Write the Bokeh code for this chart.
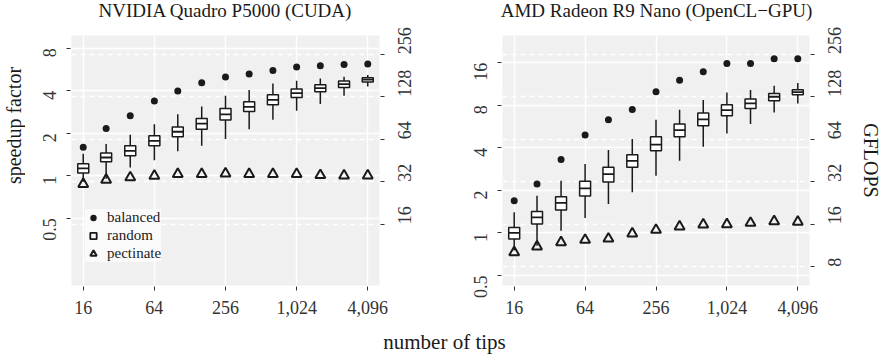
import math
from bokeh.plotting import figure
from bokeh.layouts import row, column
from bokeh.models import (LogAxis, Range1d, FixedTicker, CustomJSTickFormatter, Grid,
                          Legend, LegendItem, Label, LogScale, ColumnDataSource)
from bokeh.embed import file_html
from bokeh.resources import INLINE

# ---------------- data ----------------
tips = [16, 25, 40, 64, 101, 161, 256, 406, 645, 1024, 1625, 2580, 4096]
x_ticks = [16, 64, 256, 1024, 4096]

nv_title = "NVIDIA Quadro P5000 (CUDA)"
nv_balanced = [1.59, 2.16, 2.66, 3.38, 3.98, 4.55, 5.0, 5.25, 5.57, 5.89, 6.02, 6.14, 6.2]
nv_pectinate = [0.873, 0.937, 0.973, 1.0, 1.028, 1.03, 1.038, 1.03, 1.028, 1.028, 1.01, 1.005, 1.005]
nv_rand_low = [0.907, 0.952, 1.145, 1.29, 1.49, 1.63, 1.82, 2.14, 2.49, 2.89, 3.22, 3.69, 4.29]
nv_rand_q1 = [1.045, 1.257, 1.385, 1.63, 1.89, 2.14, 2.48, 2.85, 3.18, 3.59, 3.94, 4.22, 4.61]
nv_rand_med = [1.127, 1.348, 1.50, 1.77, 2.05, 2.34, 2.72, 3.08, 3.45, 3.85, 4.18, 4.46, 4.79]
nv_rand_q3 = [1.216, 1.448, 1.63, 1.92, 2.22, 2.55, 3.0, 3.34, 3.75, 4.11, 4.41, 4.69, 4.94]
nv_rand_high = [1.43, 1.68, 1.95, 2.32, 2.73, 3.10, 3.69, 4.05, 4.51, 4.71, 4.89, 5.03, 5.17]
nv_speed_ticks = [0.5, 1, 2, 4, 8]
nv_gflops_ticks = [16, 32, 64, 128, 256]
nv_base_gflops = 35.3

amd_title = "AMD Radeon R9 Nano (OpenCL\u2212GPU)"
amd_balanced = [1.69, 2.22, 3.31, 4.93, 6.32, 7.47, 9.97, 12.05, 13.8, 15.8, 15.8, 17.1, 17.05]
amd_pectinate = [0.73, 0.80, 0.858, 0.892, 0.911, 0.989, 1.05, 1.11, 1.145, 1.15, 1.177, 1.21, 1.20]
amd_rand_low = [0.75, 0.813, 1.038, 1.277, 1.60, 1.94, 2.54, 3.24, 4.07, 5.06, 5.89, 7.12, 8.24]
amd_rand_q1 = [0.907, 1.158, 1.454, 1.826, 2.29, 2.91, 3.82, 4.79, 5.73, 6.74, 7.60, 8.61, 9.49]
amd_rand_med = [1.0, 1.29, 1.63, 2.07, 2.61, 3.24, 4.21, 5.34, 6.35, 7.40, 8.24, 9.19, 9.92]
amd_rand_q3 = [1.095, 1.42, 1.805, 2.32, 2.91, 3.58, 4.79, 5.89, 7.05, 8.07, 8.85, 9.69, 10.3]
amd_rand_high = [1.40, 1.835, 2.34, 3.07, 3.86, 4.62, 6.32, 7.44, 8.71, 9.85, 10.25, 10.99, 11.48]
amd_speed_ticks = [0.5, 1, 2, 4, 8, 16]
amd_gflops_ticks = [8, 16, 32, 64, 128, 256]
amd_base_gflops = 13.9

x_title = "number of tips"
y_title = "speedup factor"
legend_labels = ["balanced", "random", "pectinate"]

FONT = "Liberation Serif"
TXT = "#1a1a1a"
TICK_TXT = "#333333"
PANEL_BG = "#f0f0f0"
FMT = "return tick.toLocaleString('en-US');"
FRAME_W, FRAME_H = 308, 250
ROW_H = 298


def style_axis(ax, label=None):
    ax.axis_line_color = None
    ax.major_tick_line_color = "#333333"
    ax.major_tick_line_width = 1
    ax.major_tick_in = -1
    ax.major_tick_out = 5
    ax.minor_tick_line_color = None
    ax.major_label_text_font = FONT
    ax.major_label_text_font_size = "18px"
    ax.major_label_text_color = TICK_TXT
    ax.axis_label_text_font = FONT
    ax.axis_label_text_font_size = "20px"
    ax.axis_label_text_font_style = "normal"
    ax.axis_label_text_color = TXT
    if label:
        ax.axis_label = label


def strip(width, height):
    s = figure(width=width, height=height, toolbar_location=None, output_backend="svg",
               title=None, x_axis_location=None, y_axis_location=None, min_border=0)
    s.grid.visible = False
    s.outline_line_color = None
    return s


def panel(width, bl, br, ylo, yhi, speed_ticks, gflops_ticks, base,
          balanced, pect, low, q1, med, q3, high, rlabel, legend):
    x_range = Range1d(2 ** 3.67, 2 ** 12.33)
    p = figure(width=width, height=ROW_H, x_axis_type="log", y_axis_type="log",
               x_range=x_range, y_range=Range1d(ylo, yhi), title=None,
               toolbar_location=None, output_backend="svg",
               min_border_left=bl, min_border_right=br, min_border_top=13,
               min_border_bottom=35)
    p.background_fill_color = PANEL_BG
    p.border_fill_color = "white"
    p.outline_line_color = None

    p.extra_y_ranges = {"gflops": Range1d(ylo * base, yhi * base)}
    p.extra_y_scales = {"gflops": LogScale()}
    rax = LogAxis(y_range_name="gflops")
    rax.ticker = FixedTicker(ticks=gflops_ticks)
    rax.formatter = CustomJSTickFormatter(code=FMT)
    style_axis(rax, rlabel)
    rax.major_label_orientation = math.pi / 2
    rax.major_label_standoff = 20
    rax.axis_label_standoff = 9
    p.add_layout(rax, "right")

    xax = p.xaxis[0]
    xax.ticker = FixedTicker(ticks=x_ticks)
    xax.formatter = CustomJSTickFormatter(code=FMT)
    style_axis(xax)
    xax.major_label_standoff = 10
    yax = p.yaxis[0]
    yax.ticker = FixedTicker(ticks=speed_ticks)
    yax.formatter = CustomJSTickFormatter(code=FMT)
    style_axis(yax)
    yax.major_label_orientation = math.pi / 2
    yax.major_label_standoff = 17

    p.xgrid.ticker = FixedTicker(ticks=x_ticks)
    p.ygrid.ticker = FixedTicker(ticks=speed_ticks)
    for g in (p.xgrid[0], p.ygrid[0]):
        g.grid_line_color = "white"
        g.grid_line_width = 1.4
        g.minor_grid_line_color = None
    dg = Grid(dimension=1, ticker=FixedTicker(ticks=gflops_ticks), y_range_name="gflops",
              grid_line_color="white", grid_line_width=1.3, grid_line_dash="5 4")
    p.add_layout(dg)

    # box geometry (screen width converted to log2 data factor)
    px_per_log2 = FRAME_W / (12.33 - 3.67)
    half = 2 ** (5.5 / px_per_log2)
    left = [t / half for t in tips]
    right = [t * half for t in tips]
    src = ColumnDataSource(dict(x=tips, left=left, right=right, low=low, q1=q1,
                                med=med, q3=q3, high=high))
    p.segment(x0="x", y0="q3", x1="x", y1="high", source=src, line_color=TXT, line_width=1.5)
    p.segment(x0="x", y0="q1", x1="x", y1="low", source=src, line_color=TXT, line_width=1.5)
    p.quad(left="left", right="right", bottom="q1", top="q3", source=src,
           fill_color="white", line_color=TXT, line_width=1.5)
    p.segment(x0="left", y0="med", x1="right", y1="med", source=src, line_color=TXT, line_width=1.8)

    r_bal = p.scatter(tips, balanced, marker="circle", size=7, fill_color=TXT, line_color=None)
    r_tri = p.scatter(tips, pect, marker="triangle", size=10, fill_color=None,
                      line_color=TXT, line_width=2)
    if legend:
        r_sq = p.scatter(tips, med, marker="square", size=8, fill_color=None,
                         line_color=TXT, line_width=1.8, visible=False)
        lg = Legend(items=[LegendItem(label=legend_labels[0], renderers=[r_bal]),
                           LegendItem(label=legend_labels[1], renderers=[r_sq]),
                           LegendItem(label=legend_labels[2], renderers=[r_tri])],
                    location=(14, 23))
        lg.label_text_font = FONT
        lg.label_text_font_size = "15px"
        lg.label_text_color = TXT
        lg.background_fill_color = "#fafafa"
        lg.background_fill_alpha = 1
        lg.border_line_color = None
        lg.padding = 6
        lg.spacing = 1
        lg.label_height = 17
        lg.glyph_height = 17
        lg.glyph_width = 16
        lg.label_standoff = 6
        lg.margin = 0
        p.add_layout(lg)
    return p


# titles strip
p0 = strip(884, 22)
for t, cx in ((nv_title, 225), (amd_title, 656)):
    p0.add_layout(Label(x=cx, y=11.7, x_units="screen", y_units="screen", text=t,
                        text_align="center", text_baseline="middle", text_font=FONT,
                        text_font_size="19px", text_color=TXT))

# y-axis title strip
pl = strip(25, ROW_H)
pl.add_layout(Label(x=13, y=160, x_units="screen", y_units="screen", text=y_title,
                    angle=math.pi / 2, text_align="center", text_baseline="middle",
                    text_font=FONT, text_font_size="20px", text_color=TXT))

p1 = panel(415, 46, 61, 2 ** -2.58, 2 ** 3.3, nv_speed_ticks, nv_gflops_ticks,
           nv_base_gflops, nv_balanced, nv_pectinate, nv_rand_low, nv_rand_q1, nv_rand_med,
           nv_rand_q3, nv_rand_high, None, True)
p2 = panel(444, 62, 74, 2 ** -1.235, 2 ** 4.64, amd_speed_ticks, amd_gflops_ticks,
           amd_base_gflops, amd_balanced, amd_pectinate, amd_rand_low, amd_rand_q1, amd_rand_med,
           amd_rand_q3, amd_rand_high, "GFLOPS", False)

p3 = strip(884, 37)
p3.add_layout(Label(x=444, y=16, x_units="screen", y_units="screen", text=x_title,
                    text_align="center", text_baseline="middle", text_font=FONT,
                    text_font_size="21px", text_color=TXT))

layout = column(p0, row(pl, p1, p2), p3)
open("out.html", "w").write(file_html(layout, INLINE))
